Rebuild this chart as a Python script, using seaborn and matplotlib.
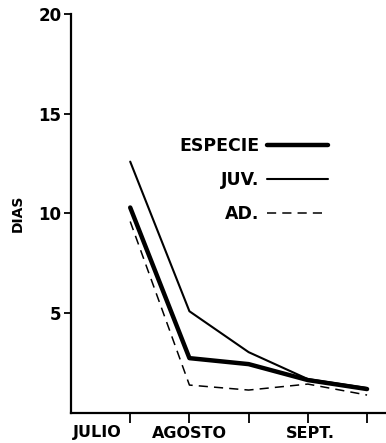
import matplotlib
matplotlib.use("Agg")
import matplotlib.pyplot as plt
import seaborn as sns
import pandas as pd
from matplotlib.lines import Line2D

sns.set_theme(style="ticks")
plt.rcParams["font.family"] = ["DejaVu Sans"]
plt.rcParams["font.weight"] = "bold"
plt.rcParams["text.color"] = "black"
plt.rcParams["xtick.color"] = "black"
plt.rcParams["ytick.color"] = "black"
plt.rcParams["axes.labelcolor"] = "black"

# half-month periods from mid July to late September
periodo = [0, 1, 2, 3, 4]
especie = [10.3, 2.75, 2.45, 1.65, 1.2]
juv = [12.6, 5.1, 3.05, 1.7, 1.25]
ad = [9.6, 1.4, 1.15, 1.45, 0.9]

series = ["ESPECIE", "JUV.", "AD."]
meses = ["JULIO", "AGOSTO", "SEPT."]
mes_pos = [-0.55, 1.0, 3.05]
y_ticks = [5, 10, 15, 20]

df = pd.DataFrame({
    "periodo": periodo * 3,
    "dias": especie + juv + ad,
    "serie": [s for s in series for _ in periodo],
})

fig = plt.figure(figsize=(3.86, 4.43), dpi=100)
ax = fig.add_axes([71 / 386, 30 / 443, 1 - 71 / 386, (413 - 14) / 443])

ad_dash = (6, 4)
sns.lineplot(
    data=df, x="periodo", y="dias", hue="serie", style="serie", size="serie",
    palette={"ESPECIE": "black", "JUV.": "black", "AD.": "black"},
    dashes={"ESPECIE": "", "JUV.": "", "AD.": ad_dash},
    sizes={"ESPECIE": 3.2, "JUV.": 1.5, "AD.": 1.1},
    legend=False, ax=ax,
)

ax.set_xlim(-1, 4.32)
ax.set_ylim(0, 20)
ax.set_yticks(y_ticks)
ax.set_yticklabels([str(v) for v in y_ticks], fontsize=12, fontweight="bold")
ax.xaxis.remove_overlapping_locs = False
ax.set_xticks(periodo)
ax.set_xticklabels([])
ax.set_xticks(mes_pos, minor=True)
ax.set_xticklabels(meses, minor=True, fontsize=11.5, fontweight="bold")
ax.tick_params(axis="x", which="major", direction="out", length=7, width=1.3)
ax.tick_params(axis="x", which="minor", length=0, pad=9)
ax.tick_params(axis="y", direction="out", length=5, width=1.3, pad=2)

ax.set_xlabel("")
ax.set_ylabel("DIAS", fontsize=10, fontweight="bold", labelpad=10)

for side in ["top", "right"]:
    ax.spines[side].set_visible(False)
for side in ["left", "bottom"]:
    ax.spines[side].set_linewidth(1.6)
    ax.spines[side].set_color("black")

handles = [
    Line2D([], [], color="black", lw=3.2),
    Line2D([], [], color="black", lw=1.5),
    Line2D([], [], color="black", lw=1.1, dashes=ad_dash),
]
leg = ax.legend(
    handles, series, markerfirst=False, frameon=False,
    loc="upper right", bbox_to_anchor=(328 / 386, (443 - 137) / 443),
    bbox_transform=fig.transFigure, borderpad=0, borderaxespad=0,
    handlelength=3.5, handletextpad=0.45, labelspacing=0.93,
    prop={"size": 12.5, "weight": "bold"},
)

fig.savefig("out.png", dpi=100)
